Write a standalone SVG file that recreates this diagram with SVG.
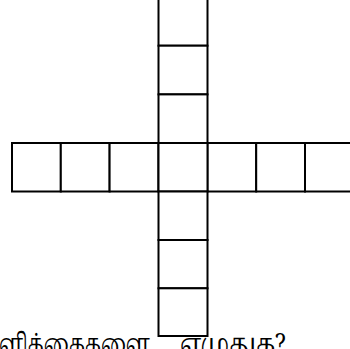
<svg xmlns="http://www.w3.org/2000/svg" width="350" height="349" viewBox="0 0 350 349">
<style>
.c{fill:#fff;stroke:#000;stroke-width:2}
.t{font-family:"Noto Serif Tamil","Liberation Serif",serif;font-size:27px;fill:#000}
</style>
<rect width="350" height="349" fill="#fff"/>
<g id="row">
<rect class="c" x="12" y="143" width="48.8" height="48.5"/>
<rect class="c" x="60.8" y="143" width="48.8" height="48.5"/>
<rect class="c" x="109.6" y="143" width="48.8" height="48.5"/>
<rect class="c" x="207.4" y="143" width="48.8" height="48.5"/>
<rect class="c" x="256.2" y="143" width="48.8" height="48.5"/>
<rect class="c" x="305" y="143" width="48.8" height="48.5"/>
</g>
<g id="column">
<rect class="c" x="158.5" y="-3" width="49" height="48.7"/>
<rect class="c" x="158.5" y="45.7" width="49" height="48.7"/>
<rect class="c" x="158.5" y="94.4" width="49" height="48.6"/>
<rect class="c" x="158.5" y="143" width="49" height="48.5"/>
<rect class="c" x="158.5" y="191.5" width="49" height="48.5"/>
<rect class="c" x="158.5" y="240" width="49" height="48.3"/>
<rect class="c" x="158.5" y="288.3" width="49" height="47.7"/>
</g>
<text class="t" y="353"><tspan x="-1" textLength="151" lengthAdjust="spacingAndGlyphs">ளிக்கைகளை</tspan><tspan x="180" textLength="106" lengthAdjust="spacingAndGlyphs">எழுதுக?</tspan></text>
</svg>
